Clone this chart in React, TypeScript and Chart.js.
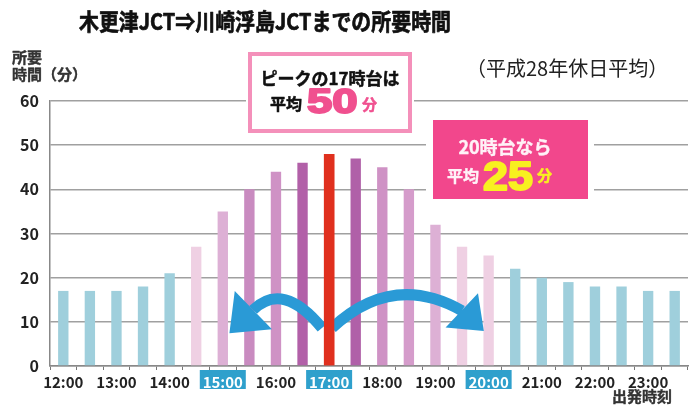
import React, { useEffect, useRef } from 'react';
import { Chart, registerables } from 'chart.js';

Chart.register(...registerables);

const FONT = '"Noto Sans CJK JP", "Noto Sans", sans-serif';
const NUM_FONT = '"Liberation Sans", Arial, sans-serif';

const categories = [
  '12:00', '12:30', '13:00', '13:30', '14:00', '14:30',
  '15:00', '15:30', '16:00', '16:30', '17:00', '17:30',
  '18:00', '18:30', '19:00', '19:30', '20:00', '20:30',
  '21:00', '21:30', '22:00', '22:30', '23:00', '23:30',
];
const hourLabels = ['12:00', '13:00', '14:00', '15:00', '16:00', '17:00', '18:00', '19:00', '20:00', '21:00', '22:00', '23:00'];
const highlightedLabels = ['15:00', '17:00', '20:00'];
const travelMinutes = [17, 17, 17, 18, 21, 27, 35, 40, 44, 46, 48, 47, 45, 40, 32, 27, 25, 22, 20, 19, 18, 18, 17, 17];
const BLUE = '#9fcfdc';
const PALE = '#efd0e3';
const barColors = [
  BLUE, BLUE, BLUE, BLUE, BLUE, PALE,
  '#ddb0d5', '#c98bc0', '#cf92c5', '#b260a8', '#e0301e', '#b060a8',
  '#cf92c5', '#d59ccb', '#ddb0d5', PALE, PALE, BLUE,
  BLUE, BLUE, BLUE, BLUE, BLUE, BLUE,
];
const peakIndex = 10;
const yTicks = [0, 10, 20, 30, 40, 50, 60];

// arrow geometry in data units: [categoryIndex, minutes]
const leftArrow = { p0: [9.73, 8.6], p1: [8.27, 19.3], p2: [7.14, 12.7], head: [[6.25, 7.4], [6.45, 17.0], [7.85, 8.3]] };
const rightArrow = { p0: [10.11, 8.6], p1: [12.4, 21.4], p2: [15.0, 12.5], head: [[15.82, 7.9], [15.6, 16.5], [14.38, 8.7]] };

function text(ctx: CanvasRenderingContext2D, s: string, x: number, y: number, font: string, color: string, align: CanvasTextAlign = 'left', sx = 1, baseline: CanvasTextBaseline = 'middle', stroke = 0, maxW?: number) {
  ctx.save();
  ctx.font = font;
  ctx.fillStyle = color;
  ctx.strokeStyle = color;
  ctx.lineJoin = 'round';
  ctx.textAlign = align;
  ctx.textBaseline = baseline;
  ctx.translate(x, y);
  ctx.scale(sx, 1);
  if (maxW) ctx.fillText(s, 0, 0, maxW); else ctx.fillText(s, 0, 0);
  if (stroke > 0) {
    ctx.lineWidth = stroke;
    if (maxW) ctx.strokeText(s, 0, 0, maxW); else ctx.strokeText(s, 0, 0);
  }
  ctx.restore();
}

const decorPlugin = {
  id: 'decor',
  beforeDraw(chart: any) {
    const ctx = chart.ctx as CanvasRenderingContext2D;
    const xs = chart.scales.x;
    ctx.save();
    ctx.fillStyle = '#2fa0cc';
    highlightedLabels.forEach((l) => {
      const i = categories.indexOf(l);
      const px = xs.getPixelForValue(i);
      ctx.fillRect(px - 23, xs.top + 4, 46, 19);
    });
    ctx.restore();
  },
  afterDatasetsDraw(chart: any) {
    const ctx = chart.ctx as CanvasRenderingContext2D;
    const xs = chart.scales.x;
    const ys = chart.scales.y;
    const P = (p: number[]) => [xs.getPixelForValue(p[0]), ys.getPixelForValue(p[1])];
    const drawArrow = (a: any) => {
      const p0 = P(a.p0), p1 = P(a.p1), p2 = P(a.p2);
      ctx.save();
      ctx.strokeStyle = '#2a9ad6';
      ctx.lineWidth = 11;
      ctx.beginPath();
      ctx.moveTo(p0[0], p0[1]);
      ctx.quadraticCurveTo(p1[0], p1[1], p2[0], p2[1]);
      ctx.stroke();
      ctx.fillStyle = '#2a9ad6';
      ctx.beginPath();
      a.head.forEach((h: number[], i: number) => {
        const q = P(h);
        if (i === 0) ctx.moveTo(q[0], q[1]); else ctx.lineTo(q[0], q[1]);
      });
      ctx.closePath();
      ctx.fill();
      ctx.restore();
    };
    drawArrow(leftArrow);
    drawArrow(rightArrow);
    const meta = chart.getDatasetMeta(0);
    meta.data[peakIndex].draw(ctx);
  },
  afterDraw(chart: any) {
    const ctx = chart.ctx as CanvasRenderingContext2D;
    // title
    text(ctx, '木更津JCT⇒川崎浮島JCTまでの所要時間', 265, 21, `bold 23px ${FONT}`, '#111', 'center', 1, 'middle', 0.7, 372);
    text(ctx, '（平成28年休日平均）', 466, 68, `20px ${FONT}`, '#222');
    // y title
    text(ctx, '所要', 12, 57, `bold 15px ${FONT}`, '#333', 'left', 1, 'middle', 0.4);
    text(ctx, '時間（分）', 12, 74, `bold 15px ${FONT}`, '#333', 'left', 1, 'middle', 0.4);
    // x title
    text(ctx, '出発時刻', 672, 396, `bold 15px ${FONT}`, '#333', 'right', 1, 'middle', 0.4);

    // box 1
    ctx.save();
    ctx.fillStyle = '#ffffff';
    ctx.fillRect(246, 50, 168, 85);
    ctx.strokeStyle = '#f490ba';
    ctx.lineWidth = 4;
    ctx.strokeRect(250, 54, 160, 77);
    ctx.restore();
    text(ctx, 'ピークの17時台は', 330, 79, `bold 17px ${FONT}`, '#111', 'center', 1, 'middle', 0.5);
    text(ctx, '平均', 270, 104, `bold 16px ${FONT}`, '#111', 'left', 1, 'middle', 0.5);
    text(ctx, '50', 307, 113, `bold 35px ${NUM_FONT}`, '#f0508f', 'left', 1.3, 'alphabetic', 2);
    text(ctx, '分', 362, 104, `bold 15px ${FONT}`, '#f0508f', 'left', 1, 'middle', 0.5);

    // box 2
    ctx.save();
    ctx.fillStyle = '#ffffff';
    ctx.fillRect(426, 117, 168, 86);
    ctx.fillStyle = '#f2478c';
    ctx.fillRect(433, 120, 155, 79);
    ctx.restore();
    text(ctx, '20時台なら', 505, 147, `bold 18px ${FONT}`, '#fff2f7', 'center', 1, 'middle', 0.4);
    text(ctx, '平均', 447, 176, `bold 16px ${FONT}`, '#fff2f7', 'left', 1, 'middle', 0.4);
    text(ctx, '25', 483, 190, `bold 40px ${NUM_FONT}`, '#f8f020', 'left', 1.12, 'alphabetic', 2);
    text(ctx, '分', 537, 175, `bold 15px ${FONT}`, '#f8f020', 'left', 1, 'middle', 0.5);
  },
};

export default function App() {
  const ref = useRef<HTMLCanvasElement | null>(null);
  useEffect(() => {
    document.body.style.margin = '0';
    const canvas = ref.current;
    if (!canvas) return;
    const chart = new Chart(canvas, {
      type: 'bar',
      data: {
        labels: categories,
        datasets: [
          {
            data: travelMinutes,
            backgroundColor: barColors,
            borderWidth: 0,
            barPercentage: 0.39,
            categoryPercentage: 1,
          },
        ],
      },
      options: {
        animation: false,
        responsive: false,
        devicePixelRatio: 1,
        layout: { padding: { top: 101, right: 7, left: 0, bottom: 0 } },
        plugins: { legend: { display: false }, tooltip: { enabled: false }, title: { display: false } },
        scales: {
          x: {
            offset: true,
            grid: { display: true, drawOnChartArea: false, offset: true, tickLength: 4, color: '#777', lineWidth: 1 },
            border: { color: '#888', width: 1.5 },
            ticks: {
              autoSkip: false,
              maxRotation: 0,
              minRotation: 0,
              padding: 3,
              font: { family: FONT, size: 15, weight: 'bold' },
              color: (c: any) => (highlightedLabels.includes(categories[c.index]) ? '#ffffff' : '#222222'),
              callback: (_v: any, i: number) => (hourLabels.includes(categories[i]) ? categories[i] : ''),
            },
            afterFit: (s: any) => { s.height = 39; },
          },
          y: {
            min: 0,
            max: 60,
            afterBuildTicks: (s: any) => { s.ticks = yTicks.map((v) => ({ value: v })); },
            ticks: { padding: 11, font: { family: FONT, size: 16, weight: 'bold' }, color: '#222' },
            grid: { color: '#a0a0a0', lineWidth: 1.5, drawTicks: false },
            border: { color: '#888', width: 1.5 },
            afterFit: (s: any) => { s.width = 50; },
          },
        },
      },
      plugins: [decorPlugin],
    } as any);
    return () => chart.destroy();
  }, []);
  return (
    <div style={{ width: 695, height: 405, position: 'relative', background: '#fff' }}>
      <canvas ref={ref} width={695} height={405} />
    </div>
  );
}
